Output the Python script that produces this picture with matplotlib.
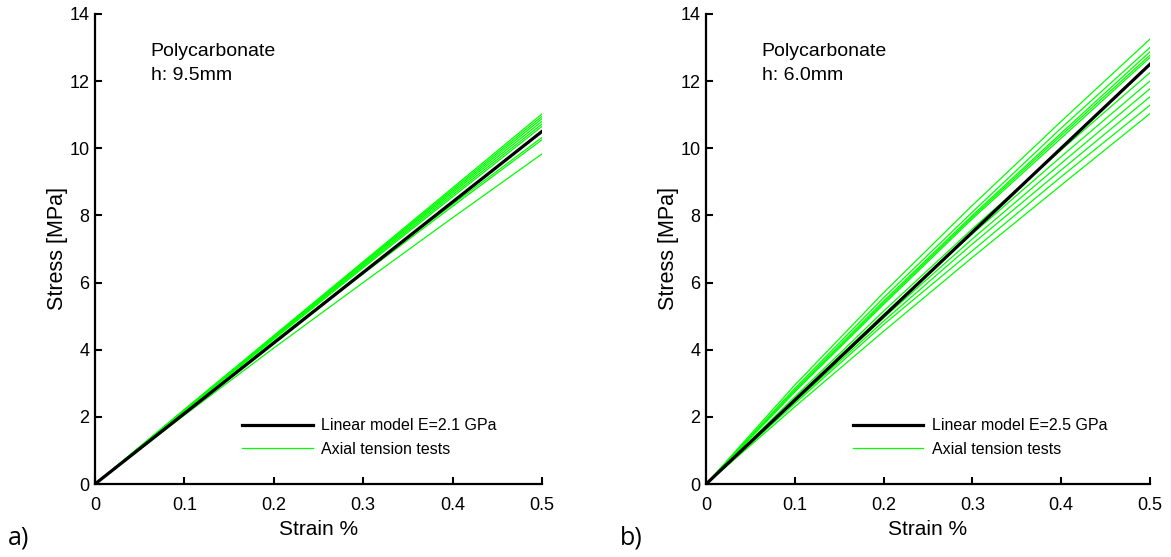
import matplotlib
matplotlib.use("Agg")
import matplotlib.pyplot as plt

plt.rcParams["font.family"] = ["Liberation Sans", "DejaVu Sans"]

strain = [0, 0.1, 0.2, 0.3, 0.4, 0.5]
x_ticks = [0, 0.1, 0.2, 0.3, 0.4, 0.5]
x_tick_labels = ["0", "0.1", "0.2", "0.3", "0.4", "0.5"]
y_ticks = [0, 2, 4, 6, 8, 10, 12, 14]

# panel a: h = 9.5 mm, E = 2.1 GPa
model_a = [0, 2.1, 4.2, 6.3, 8.4, 10.5]
tests_a = [
    [0, 2.22, 4.42, 6.62, 8.82, 11.02],
    [0, 2.21, 4.40, 6.59, 8.77, 10.95],
    [0, 2.20, 4.38, 6.56, 8.72, 10.88],
    [0, 2.19, 4.36, 6.52, 8.67, 10.80],
    [0, 2.18, 4.34, 6.48, 8.61, 10.72],
    [0, 2.17, 4.31, 6.44, 8.55, 10.65],
    [0, 2.14, 4.25, 6.32, 8.33, 10.32],
    [0, 2.12, 4.21, 6.26, 8.27, 10.25],
    [0, 2.05, 4.05, 6.00, 7.93, 9.83],
]

# panel b: h = 6.0 mm, E = 2.5 GPa
model_b = [0, 2.5, 5.0, 7.5, 10.0, 12.5]
tests_b = [
    [0, 2.95, 5.70, 8.30, 10.80, 13.25],
    [0, 2.85, 5.55, 8.10, 10.60, 13.00],
    [0, 2.80, 5.45, 8.00, 10.45, 12.87],
    [0, 2.75, 5.40, 7.95, 10.38, 12.77],
    [0, 2.75, 5.35, 7.90, 10.30, 12.70],
    [0, 2.60, 5.15, 7.60, 9.95, 12.25],
    [0, 2.55, 5.05, 7.45, 9.75, 12.00],
    [0, 2.50, 4.95, 7.30, 9.55, 11.77],
    [0, 2.45, 4.85, 7.15, 9.35, 11.53],
    [0, 2.40, 4.75, 6.95, 9.15, 11.28],
    [0, 2.30, 4.55, 6.75, 8.90, 11.03],
]

panels = [
    (tests_a, model_a, "h: 9.5mm", "Linear model E=2.1 GPa", "a)"),
    (tests_b, model_b, "h: 6.0mm", "Linear model E=2.5 GPa", "b)"),
]
axes_pos = [[0.0811, 0.131, 0.3817, 0.844], [0.603, 0.131, 0.379, 0.844]]

fig = plt.figure(figsize=(11.71, 5.57), dpi=100)
for (tests, model, h_text, model_label, tag), pos in zip(panels, axes_pos):
    ax = fig.add_axes(pos)
    for i, t in enumerate(tests):
        ax.plot(strain, t, color="#00ff00", lw=0.9,
                label="Axial tension tests" if i == 0 else None, zorder=2)
    ax.plot(strain, model, color="black", lw=2.3, label=model_label, zorder=3)
    ax.set_xlim(0, 0.5)
    ax.set_ylim(0, 14)
    ax.set_xticks(x_ticks)
    ax.set_xticklabels(x_tick_labels)
    ax.set_yticks(y_ticks)
    ax.tick_params(direction="in", length=5, width=1.5, labelsize=13)
    ax.tick_params(axis="x", pad=9)
    ax.tick_params(axis="y", pad=4)
    for side in ["top", "right"]:
        ax.spines[side].set_visible(False)
    for side in ["left", "bottom"]:
        ax.spines[side].set_linewidth(1.6)
    ax.set_xlabel("Strain %", fontsize=15, labelpad=5)
    ax.set_ylabel("Stress [MPa]", fontsize=15.5, labelpad=1)
    ax.text(0.125, 0.921, "Polycarbonate", transform=ax.transAxes,
            fontsize=14, va="center", ha="left")
    ax.text(0.125, 0.868, h_text, transform=ax.transAxes,
            fontsize=14, va="center", ha="left")
    handles, labels = ax.get_legend_handles_labels()
    ax.legend(handles[::-1], labels[::-1], loc="center left",
              bbox_to_anchor=(0.312, 0.099), frameon=False, fontsize=11.5,
              borderpad=0, handlelength=4.4, handletextpad=0.55,
              labelspacing=0.55)
    fig.text(pos[0] - 0.074, 0.034, tag, fontsize=18, family="Open Sans",
             va="center", ha="left")

fig.savefig("out.png", dpi=100)
plt.close(fig)
